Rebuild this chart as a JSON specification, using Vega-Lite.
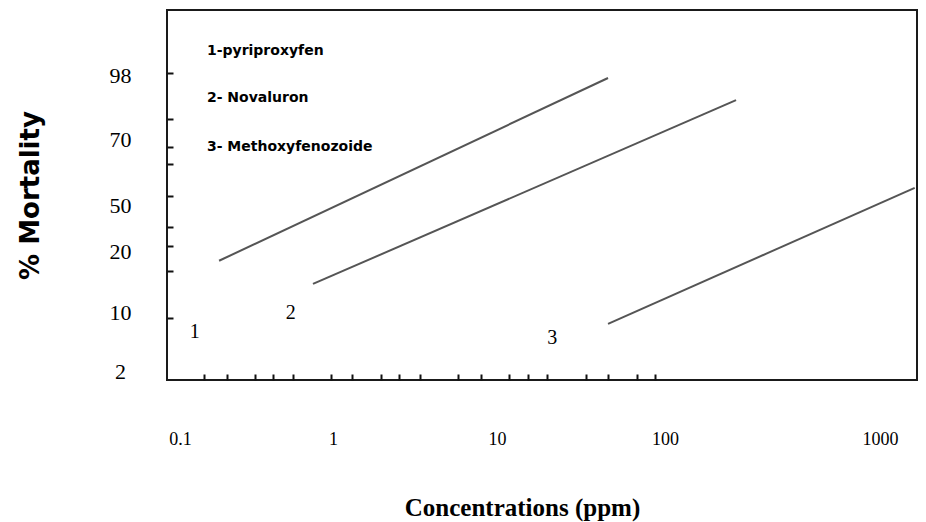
{
  "$schema": "https://vega.github.io/schema/vega-lite/v6.json",
  "autosize": "none",
  "width": 750,
  "height": 370,
  "padding": {"left": 167, "top": 10, "right": 9, "bottom": 142},
  "background": "white",
  "config": {
    "view": {"stroke": "#1a1a1a", "strokeWidth": 2},
    "axis": {"grid": false}
  },
  "datasets": {
    "lines": [
      {"series": "1", "conc": 0.18, "mortality": 18.4},
      {"series": "1", "conc": 45.8, "mortality": 96.7},
      {"series": "2", "conc": 0.74, "mortality": 14.6},
      {"series": "2", "conc": 214, "mortality": 87},
      {"series": "3", "conc": 45.8, "mortality": 8.4},
      {"series": "3", "conc": 1450, "mortality": 55.2}
    ],
    "numbers": [
      {"label": "1", "conc": 0.125, "mortality": 7.3},
      {"label": "2", "conc": 0.53, "mortality": 9.9},
      {"label": "3", "conc": 21.3, "mortality": 6.5}
    ],
    "legend": [
      {"label": "1-pyriproxyfen", "conc": 0.15, "mortality": 98.55},
      {"label": "2- Novaluron", "conc": 0.15, "mortality": 87.9},
      {"label": "3- Methoxyfenozoide", "conc": 0.15, "mortality": 67.6}
    ]
  },
  "resolve": {"axis": {"x": "independent", "y": "independent"}},
  "layer": [
    {
      "data": {"name": "lines"},
      "mark": {"type": "line", "color": "#555555", "strokeWidth": 2},
      "encoding": {
        "x": {
          "field": "conc", "type": "quantitative",
          "scale": {"type": "log", "domain": [0.082, 0.1, 1, 10, 100, 1000, 1486], "range": [0, 13, 166, 330, 498, 713, 750], "nice": false},
          "axis": {
            "orient": "bottom",
            "values": [0.1, 1, 10, 100, 1000],
            "format": "~g",
            "ticks": false, "domain": false,
            "labelFont": "Liberation Serif", "labelFontSize": 18, "labelColor": "black",
            "labelPadding": 50,
            "title": "Concentrations (ppm)",
            "titleFont": "Liberation Serif", "titleFontSize": 25, "titleFontWeight": "bold", "titleColor": "black",
            "titlePadding": 47,
            "titleX": 355
          }
        },
        "y": {
          "field": "mortality", "type": "quantitative",
          "scale": {"type": "linear", "domain": [1.5, 2, 10, 20, 50, 70, 98, 99.5], "range": [370, 361, 302, 241, 195, 129, 65, 0], "nice": false, "zero": false},
          "axis": {
            "orient": "left",
            "values": [2, 10, 20, 50, 70, 98],
            "ticks": false, "domain": false,
            "labelFont": "Liberation Serif", "labelFontSize": 22, "labelColor": "black",
            "labelAlign": "center",
            "labelPadding": 47,
            "title": "% Mortality",
            "titleFont": "DejaVu Sans", "titleFontSize": 26, "titleFontWeight": "bold", "titleColor": "black",
            "titlePadding": 66
          }
        },
        "detail": {"field": "series"}
      }
    },
    {
      "data": {"name": "numbers"},
      "mark": {"type": "text", "font": "Liberation Serif", "fontSize": 20, "color": "black", "align": "center", "baseline": "middle"},
      "encoding": {
        "x": {
          "field": "conc", "type": "quantitative",
          "scale": {"type": "log", "domain": [0.082, 0.1, 1, 10, 100, 1000, 1486], "range": [0, 13, 166, 330, 498, 713, 750], "nice": false},
          "axis": {
            "orient": "bottom",
            "values": [0.1435, 0.203, 0.309, 0.405, 0.548, 0.97, 1.306, 1.96, 2.53, 3.39, 5.78, 7.99, 11.8, 15.3, 19.9, 33.9, 45.8, 68.1, 87.2],
            "labels": false, "domain": false, "ticks": true,
            "tickSize": -6, "tickWidth": 2, "tickColor": "#111",
            "title": null
          }
        },
        "y": {
          "field": "mortality", "type": "quantitative",
          "scale": {"type": "linear", "domain": [1.5, 2, 10, 20, 50, 70, 98, 99.5], "range": [370, 361, 302, 241, 195, 129, 65, 0], "nice": false, "zero": false},
          "axis": {
            "orient": "left",
            "values": [9.19, 16.7, 23.3, 35.7, 52.7, 62.4, 67.6, 78.75, 98.05],
            "labels": false, "domain": false, "ticks": true,
            "tickSize": -6, "tickWidth": 2, "tickColor": "#111",
            "title": null
          }
        },
        "text": {"field": "label"}
      }
    },
    {
      "data": {"name": "legend"},
      "mark": {"type": "text", "font": "DejaVu Sans", "fontSize": 14, "fontWeight": "bold", "color": "black", "align": "left", "baseline": "middle"},
      "encoding": {
        "x": {
          "field": "conc", "type": "quantitative",
          "scale": {"type": "log", "domain": [0.082, 0.1, 1, 10, 100, 1000, 1486], "range": [0, 13, 166, 330, 498, 713, 750], "nice": false},
          "axis": null
        },
        "y": {
          "field": "mortality", "type": "quantitative",
          "scale": {"type": "linear", "domain": [1.5, 2, 10, 20, 50, 70, 98, 99.5], "range": [370, 361, 302, 241, 195, 129, 65, 0], "nice": false, "zero": false},
          "axis": null
        },
        "text": {"field": "label"}
      }
    }
  ]
}
